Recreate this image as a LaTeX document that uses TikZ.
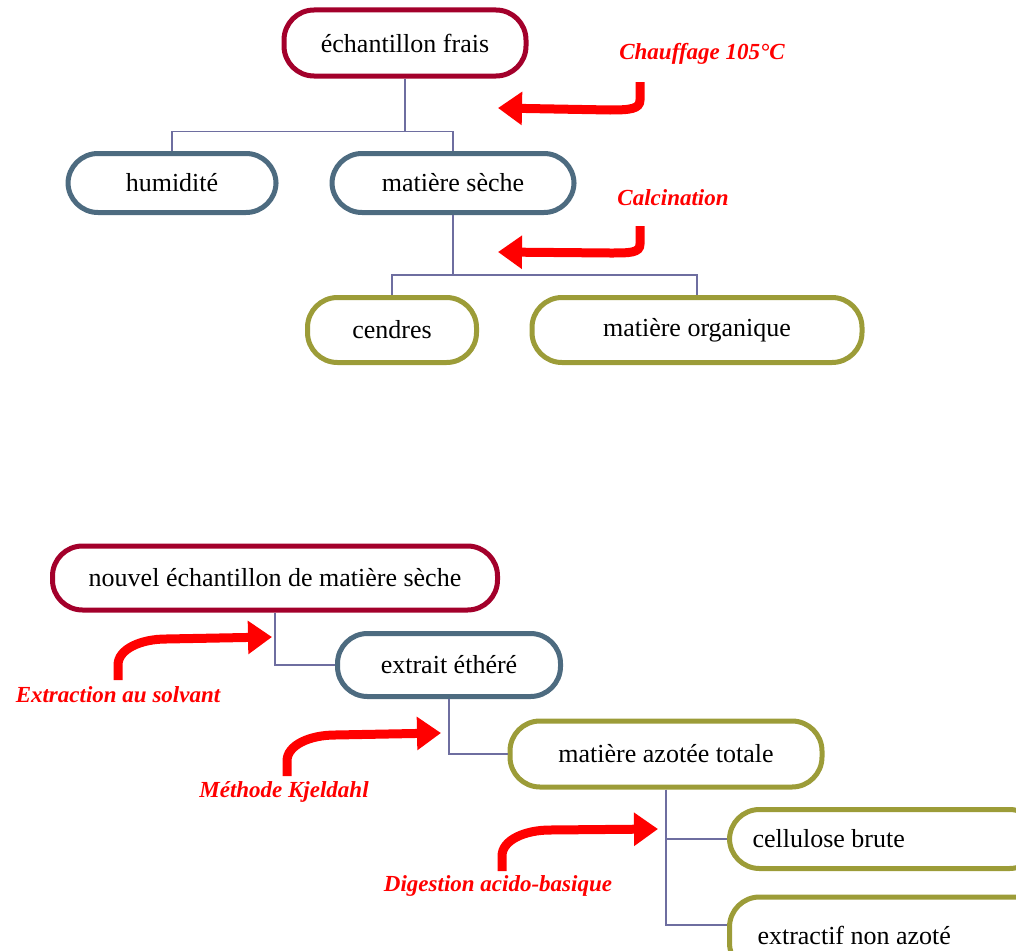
\documentclass[tikz,border=0pt]{standalone}
\usepackage{fontspec}
\setmainfont{Liberation Serif}
\usetikzlibrary{arrows.meta}

\definecolor{wine}{RGB}{163,0,43}
\definecolor{slate}{RGB}{77,107,128}
\definecolor{moss}{RGB}{156,156,56}
\definecolor{wire}{RGB}{110,110,160}

\tikzset{>=latex}
\tikzset{
  box/.style={draw, line width=5pt, fill=white, rounded corners=30pt,
    inner sep=0pt, font=\fontsize{26}{30}\selectfont},
  winebox/.style={box, draw=wine},
  slatebox/.style={box, draw=slate},
  mossbox/.style={box, draw=moss},
  conn/.style={draw=wire, line width=1.5pt},
  hint/.style={red, line width=9pt, -{Triangle[length=24pt,width=32pt]}},
  hintlabel/.style={red, font=\fontsize{23}{27}\selectfont\bfseries\itshape}
}

\begin{document}
\begin{tikzpicture}[x=1pt,y=-1pt]
  \useasboundingbox (0,0) rectangle (1016,950);
  \clip (0,0) rectangle (1016,950);

  % first tree
  \node[winebox, minimum width=242pt, minimum height=66pt] (frais) at (405,43) {échantillon frais};
  \node[slatebox, minimum width=208pt, minimum height=59pt] (humid) at (172,183) {humidité};
  \node[slatebox, minimum width=242pt, minimum height=59pt] (seche) at (453,183) {matière sèche};
  \node[mossbox, minimum width=169pt, minimum height=65pt] (cendres) at (392,330) {cendres};
  \node[mossbox, minimum width=330pt, minimum height=65pt] (organ) at (697,330) {matière organique};

  \draw[conn] (frais.south) -- ++(0,53) -| (humid.north);
  \draw[conn] (frais.south) ++(0,53) -| (seche.north);
  \draw[conn] (seche.south) -- ++(0,60) -| (cendres.north);
  \draw[conn] (seche.south) ++(0,60) -| (organ.north);

  % second chain
  \node[winebox, minimum width=445pt, minimum height=64pt] (nouvel) at (275,578) {nouvel échantillon de matière sèche};
  \node[slatebox, minimum width=223pt, minimum height=63pt] (ether) at (449,665) {extrait éthéré};
  \node[mossbox, minimum width=312pt, minimum height=66pt] (azote) at (666,754) {matière azotée totale};
  \node[mossbox, anchor=west, text width=264pt, align=flush left, inner xsep=23pt,
        minimum height=59pt] (cellu) at (727,839) {cellulose brute};
  \node[mossbox, anchor=west, text width=264pt, align=flush left, inner xsep=28pt,
        minimum height=76pt] (extra) at (727,935) {extractif non azoté};

  \draw[conn] (nouvel.south) |- (ether.west);
  \draw[conn] (ether.south) |- (azote.west);
  \draw[conn] (azote.south) |- (cellu.west);
  \draw[conn] (azote.south) -- (azote.south |- 0,925) -- (extra.west |- 0,925);

  % red hints
  \coordinate (h1s) at (640,82);  \coordinate (h1t) at (498,108);
  \coordinate (h2s) at (640,226); \coordinate (h2t) at (498,252);
  \coordinate (h3s) at (118,680); \coordinate (h3t) at (272,637);
  \coordinate (h4s) at (287,776); \coordinate (h4t) at (441,733);
  \coordinate (h5s) at (502,871); \coordinate (h5t) at (658,829);

  \draw[hint] (h1s) -- ++(0,18) .. controls +(0,9) and +(20,0) .. ++(-30,10) -- (h1t);
  \draw[hint] (h2s) -- ++(0,18) .. controls +(0,9) and +(20,0) .. ++(-30,9) -- (h2t);
  \foreach \s/\t in {h3s/h3t, h4s/h4t, h5s/h5t} {
    \draw[hint] (\s) -- ++(0,-15) .. controls +(0,-16) and +(-25,0) .. ++(48,-26) -- (\t);
  }

  \node[hintlabel] (l1) at (702,54) {Chauffage 105°C};
  \node[hintlabel] (l2) at (673,198) {Calcination};
  \node[hintlabel] (l3) at (118,695) {Extraction au solvant};
  \node[hintlabel] (l4) at (284,792) {Méthode Kjeldahl};
  \node[hintlabel] (l5) at (498,886) {Digestion acido-basique};
\end{tikzpicture}
\end{document}
